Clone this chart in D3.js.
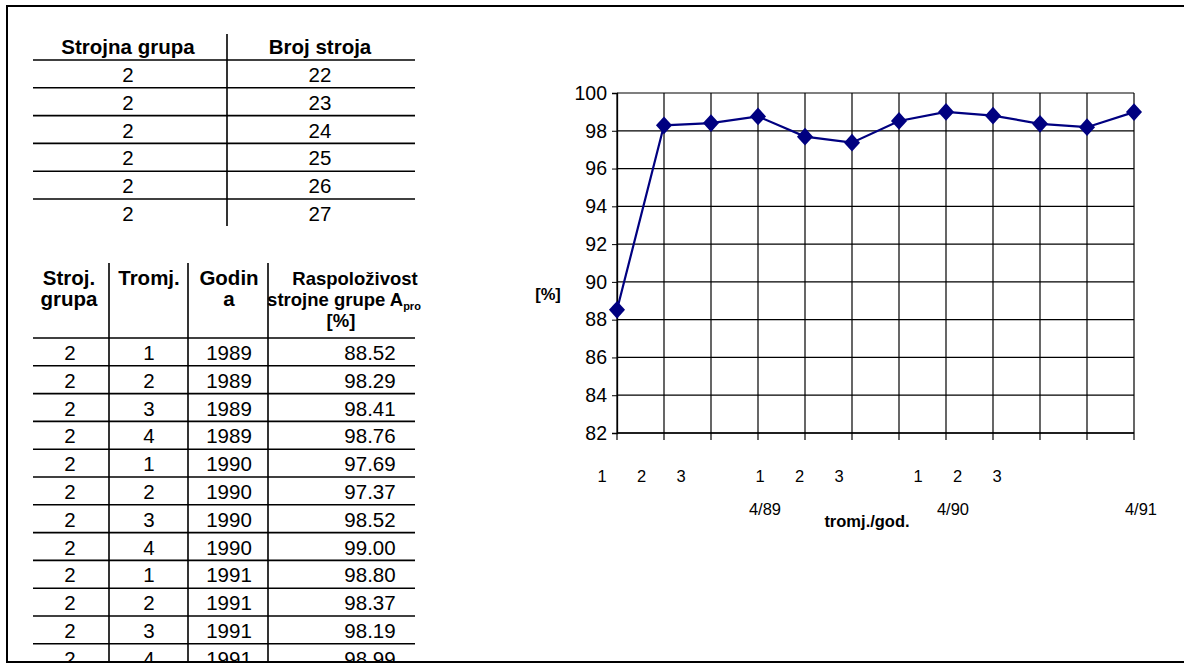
<!DOCTYPE html>
<html>
<head>
<meta charset="utf-8">
<script src="https://cdn.jsdelivr.net/npm/d3@7"></script>
<style>
  html, body { margin: 0; padding: 0; background: #fff; }
  svg { display: block; }
  text { font-family: "Liberation Sans", Arial, sans-serif; fill: #000; }
</style>
</head>
<body>
<svg id="chart" width="1184" height="664"></svg>
<script>
// ---------- data ----------
const topHeaders = ["Strojna grupa", "Broj stroja"];
const topGroup = [2, 2, 2, 2, 2, 2];
const machineNo = [22, 23, 24, 25, 26, 27];

const groupCol = [2, 2, 2, 2, 2, 2, 2, 2, 2, 2, 2, 2];
const quarterCol = [1, 2, 3, 4, 1, 2, 3, 4, 1, 2, 3, 4];
const yearCol = [1989, 1989, 1989, 1989, 1990, 1990, 1990, 1990, 1991, 1991, 1991, 1991];
const availability = [88.52, 98.29, 98.41, 98.76, 97.69, 97.37, 98.52, 99.00, 98.80, 98.37, 98.19, 98.99];

const xCategories = ["1", "2", "3", "4/89", "1", "2", "3", "4/90", "1", "2", "3", "4/91"];
const yTicks = [82, 84, 86, 88, 90, 92, 94, 96, 98, 100];
const yDomain = [82, 100];
const yTitle = "[%]";
const xTitle = "tromj./god.";

// ---------- svg ----------
const svg = d3.select("#chart");
const FS = 20.5;

svg.append("defs").append("clipPath").attr("id", "page")
  .append("rect").attr("x", 8).attr("y", 7).attr("width", 1200).attr("height", 654);

const page = svg.append("g").attr("clip-path", "url(#page)");

// ---------- top table ----------
const tX = [128, 320];
const topRow = d3.scaleLinear().domain([0, 1]).range([60, 87.8]);
const tt = page.append("g");
tt.selectAll("text.h").data(topHeaders).join("text")
  .attr("x", (d, i) => tX[i]).attr("y", 54)
  .attr("text-anchor", "middle").attr("font-weight", "bold").attr("font-size", FS)
  .text(d => d);
tt.append("line").attr("x1", 227).attr("x2", 227).attr("y1", 34).attr("y2", 226)
  .attr("stroke", "#000").attr("stroke-width", 1.6);
tt.selectAll("line.r").data(machineNo).join("line").attr("class", "r")
  .attr("x1", 33).attr("x2", 415)
  .attr("y1", (d, i) => topRow(i)).attr("y2", (d, i) => topRow(i))
  .attr("stroke", "#000").attr("stroke-width", 1.6);
tt.selectAll("text.g").data(topGroup).join("text").attr("class", "g")
  .attr("x", tX[0]).attr("y", (d, i) => topRow(i) + 22)
  .attr("text-anchor", "middle").attr("font-size", FS).text(d => d);
tt.selectAll("text.m").data(machineNo).join("text").attr("class", "m")
  .attr("x", tX[1]).attr("y", (d, i) => topRow(i) + 22)
  .attr("text-anchor", "middle").attr("font-size", FS).text(d => d);

// ---------- bottom table ----------
const bRow = d3.scaleLinear().domain([0, 1]).range([338, 365.8]);
const bt = page.append("g");
const colX = [70, 149, 229, 370];
const vLines = [109, 188, 268];
bt.selectAll("line.v").data(vLines).join("line").attr("class", "v")
  .attr("x1", d => d).attr("x2", d => d).attr("y1", 263).attr("y2", 664)
  .attr("stroke", "#000").attr("stroke-width", 1.6);
bt.selectAll("line.r").data(availability).join("line").attr("class", "r")
  .attr("x1", 33).attr("x2", 415)
  .attr("y1", (d, i) => bRow(i)).attr("y2", (d, i) => bRow(i))
  .attr("stroke", "#000").attr("stroke-width", 1.6);

function headLines(x, lines, fs) {
  lines.forEach((l, i) => {
    bt.append("text").attr("x", x).attr("y", 285 + i * 21)
      .attr("text-anchor", "middle").attr("font-weight", "bold").attr("font-size", fs || FS)
      .text(l);
  });
}
headLines(69, ["Stroj.", "grupa"]);
headLines(149, ["Tromj."]);
headLines(229, ["Godin", "a"]);
bt.append("text").attr("x", 355).attr("y", 285).attr("text-anchor", "middle")
  .attr("font-weight", "bold").attr("font-size", 18.5).text("Raspoloživost");
const sg = bt.append("text").attr("x", 344).attr("y", 306).attr("text-anchor", "middle")
  .attr("font-weight", "bold").attr("font-size", 18.5);
sg.append("tspan").text("strojne grupe A");
sg.append("tspan").attr("font-size", 11).attr("dy", 4).text("pro");
bt.append("text").attr("x", 341).attr("y", 327).attr("text-anchor", "middle")
  .attr("font-weight", "bold").attr("font-size", 18.5).text("[%]");

const cols = [groupCol, quarterCol, yearCol, availability.map(v => v.toFixed(2))];
cols.forEach((arr, c) => {
  bt.selectAll("text.c" + c).data(arr).join("text").attr("class", "c" + c)
    .attr("x", colX[c]).attr("y", (d, i) => bRow(i) + 22)
    .attr("text-anchor", "middle").attr("font-size", FS).text(d => d);
});

// ---------- chart ----------
const x = d3.scalePoint().domain(d3.range(xCategories.length)).range([617, 1134]);
const y = d3.scaleLinear().domain(yDomain).range([433, 93]);
const labelX = d3.scaleLinear().domain([0, 11]).range([602, 1036.5]);
const ch = page.append("g");

ch.selectAll("line.hg").data(yTicks).join("line").attr("class", "hg")
  .attr("x1", x(0)).attr("x2", x(11)).attr("y1", d => y(d)).attr("y2", d => y(d))
  .attr("stroke", "#000").attr("stroke-width", 1.2);
ch.selectAll("line.vg").data(d3.range(xCategories.length)).join("line").attr("class", "vg")
  .attr("x1", d => x(d)).attr("x2", d => x(d)).attr("y1", y(100)).attr("y2", y(82) + 7)
  .attr("stroke", "#000").attr("stroke-width", 1.2);

const yAxis = ch.append("g").attr("transform", `translate(${x(0)},0)`)
  .call(d3.axisLeft(y).tickValues(yTicks).tickSize(5).tickPadding(5));
yAxis.select(".domain").attr("stroke", "#000").attr("stroke-width", 1.3);
yAxis.selectAll(".tick line").attr("stroke", "#000");
yAxis.selectAll(".tick text").attr("font-family", "Liberation Sans, Arial, sans-serif")
  .attr("font-size", 19.5).attr("fill", "#000");

ch.append("line").attr("x1", x(0)).attr("x2", x(11)).attr("y1", y(82)).attr("y2", y(82))
  .attr("stroke", "#000").attr("stroke-width", 1.6);

ch.append("text").attr("x", 548).attr("y", 300).attr("text-anchor", "middle")
  .attr("font-weight", "bold").attr("font-size", 16.5).text(yTitle);

ch.selectAll("text.xl").data(xCategories).join("text").attr("class", "xl")
  .attr("x", (d, i) => (d.includes("/") ? x(i) + 7 : labelX(i)))
  .attr("y", d => (d.includes("/") ? 515 : 482))
  .attr("text-anchor", "middle").attr("font-size", 16.5).text(d => d);
ch.append("text").attr("x", 867).attr("y", 527).attr("text-anchor", "middle")
  .attr("font-weight", "bold").attr("font-size", 16.5).text(xTitle);

const line = d3.line().x((d, i) => x(i)).y(d => y(d));
ch.append("path").datum(availability).attr("d", line)
  .attr("fill", "none").attr("stroke", "#000080").attr("stroke-width", 2.2);
ch.selectAll("path.mk").data(availability).join("path").attr("class", "mk")
  .attr("d", d3.symbol().type(d3.symbolDiamond2).size(165))
  .attr("transform", (d, i) => `translate(${x(i)},${y(d)}) scale(1,1.1)`)
  .attr("fill", "#000080");

// ---------- frame ----------
svg.append("rect").attr("x", 7).attr("y", 6).attr("width", 1200).attr("height", 656)
  .attr("fill", "none").attr("stroke", "#000").attr("stroke-width", 2);
</script>
</body>
</html>
